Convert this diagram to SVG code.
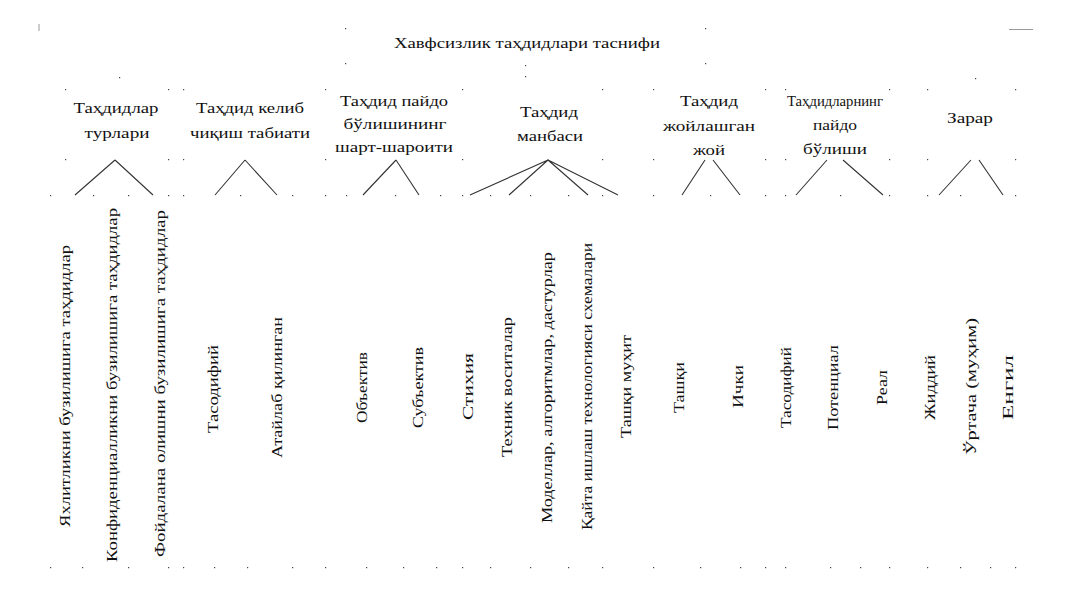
<svg xmlns="http://www.w3.org/2000/svg" width="1067" height="600" viewBox="0 0 1067 600">
<style>
.t{font-family:"Liberation Serif","Times New Roman",serif;font-size:15px;fill:#111}
.h{text-anchor:middle}
.v{font-size:15px}
.c{stroke:#333;stroke-width:1.1;fill:none}
.d{fill:#444}
</style>
<rect width="1067" height="600" fill="#fff"/>
<g id="marks">
<line x1="39" y1="24" x2="39" y2="31" stroke="#999" stroke-width="1"/>
<line x1="1009" y1="29.5" x2="1033" y2="29.5" stroke="#999" stroke-width="1"/>
<g class="d">
<rect x="345" y="28" width="1.2" height="1.2"/><rect x="705" y="28" width="1.2" height="1.2"/>
<rect x="345" y="63" width="1.2" height="1.2"/><rect x="705" y="63" width="1.2" height="1.2"/>
<rect x="525" y="65" width="1.2" height="1.2"/><rect x="525" y="76" width="1.2" height="1.2"/>
<rect x="119" y="77" width="1.2" height="1.2"/><rect x="975" y="78" width="1.2" height="1.2"/>
<rect x="65" y="89" width="1.2" height="1.2"/><rect x="168" y="89" width="1.2" height="1.2"/><rect x="183" y="89" width="1.2" height="1.2"/><rect x="325" y="89" width="1.2" height="1.2"/><rect x="462" y="89" width="1.2" height="1.2"/><rect x="602" y="89" width="1.2" height="1.2"/><rect x="653" y="89" width="1.2" height="1.2"/><rect x="765" y="89" width="1.2" height="1.2"/><rect x="785" y="89" width="1.2" height="1.2"/><rect x="889" y="89" width="1.2" height="1.2"/><rect x="927" y="89" width="1.2" height="1.2"/><rect x="1015" y="89" width="1.2" height="1.2"/>
<rect x="65" y="159" width="1.2" height="1.2"/><rect x="168" y="159" width="1.2" height="1.2"/><rect x="183" y="159" width="1.2" height="1.2"/><rect x="325" y="159" width="1.2" height="1.2"/><rect x="462" y="159" width="1.2" height="1.2"/><rect x="602" y="159" width="1.2" height="1.2"/><rect x="653" y="159" width="1.2" height="1.2"/><rect x="765" y="159" width="1.2" height="1.2"/><rect x="785" y="159" width="1.2" height="1.2"/><rect x="889" y="159" width="1.2" height="1.2"/><rect x="927" y="159" width="1.2" height="1.2"/><rect x="1015" y="159" width="1.2" height="1.2"/>
<rect x="50" y="195" width="1.2" height="1.2"/><rect x="93" y="195" width="1.2" height="1.2"/><rect x="128" y="195" width="1.2" height="1.2"/><rect x="168" y="195" width="1.2" height="1.2"/><rect x="183" y="195" width="1.2" height="1.2"/><rect x="240" y="195" width="1.2" height="1.2"/><rect x="292" y="195" width="1.2" height="1.2"/><rect x="325" y="195" width="1.2" height="1.2"/><rect x="346" y="195" width="1.2" height="1.2"/><rect x="395" y="195" width="1.2" height="1.2"/><rect x="440" y="195" width="1.2" height="1.2"/><rect x="462" y="195" width="1.2" height="1.2"/><rect x="490" y="195" width="1.2" height="1.2"/><rect x="530" y="195" width="1.2" height="1.2"/><rect x="568" y="195" width="1.2" height="1.2"/><rect x="602" y="195" width="1.2" height="1.2"/><rect x="653" y="195" width="1.2" height="1.2"/><rect x="710" y="195" width="1.2" height="1.2"/><rect x="765" y="195" width="1.2" height="1.2"/><rect x="785" y="195" width="1.2" height="1.2"/><rect x="840" y="195" width="1.2" height="1.2"/><rect x="889" y="195" width="1.2" height="1.2"/><rect x="927" y="195" width="1.2" height="1.2"/><rect x="960" y="195" width="1.2" height="1.2"/><rect x="1015" y="195" width="1.2" height="1.2"/>
<rect x="50" y="567" width="1.2" height="1.2"/><rect x="82" y="567" width="1.2" height="1.2"/><rect x="128" y="567" width="1.2" height="1.2"/><rect x="168" y="567" width="1.2" height="1.2"/><rect x="183" y="567" width="1.2" height="1.2"/><rect x="214" y="567" width="1.2" height="1.2"/><rect x="247" y="567" width="1.2" height="1.2"/><rect x="292" y="567" width="1.2" height="1.2"/><rect x="325" y="567" width="1.2" height="1.2"/><rect x="366" y="567" width="1.2" height="1.2"/><rect x="403" y="567" width="1.2" height="1.2"/><rect x="436" y="567" width="1.2" height="1.2"/><rect x="462" y="567" width="1.2" height="1.2"/><rect x="490" y="567" width="1.2" height="1.2"/><rect x="530" y="567" width="1.2" height="1.2"/><rect x="568" y="567" width="1.2" height="1.2"/><rect x="602" y="567" width="1.2" height="1.2"/><rect x="653" y="567" width="1.2" height="1.2"/><rect x="700" y="567" width="1.2" height="1.2"/><rect x="740" y="567" width="1.2" height="1.2"/><rect x="765" y="567" width="1.2" height="1.2"/><rect x="785" y="567" width="1.2" height="1.2"/><rect x="830" y="567" width="1.2" height="1.2"/><rect x="860" y="567" width="1.2" height="1.2"/><rect x="889" y="567" width="1.2" height="1.2"/><rect x="927" y="567" width="1.2" height="1.2"/><rect x="960" y="567" width="1.2" height="1.2"/><rect x="990" y="567" width="1.2" height="1.2"/><rect x="1015" y="567" width="1.2" height="1.2"/>
</g>
</g>
<g id="title"><text class="t h" x="527" y="48" font-size="16" textLength="266" lengthAdjust="spacingAndGlyphs">Хавфсизлик таҳдидлари таснифи</text></g>
<g id="connectors">
<path class="c" d="M115,160 L75,195 M115,160 L153,195"/>
<path class="c" d="M245,160 L215,195 M245,160 L277,195"/>
<path class="c" d="M396,160 L363,195 M396,160 L419,195"/>
<path class="c" d="M548,160 L470,195 M548,160 L509,195 M548,160 L588,195 M548,160 L618,195"/>
<path class="c" d="M705,160 L682,195 M713,160 L740,195"/>
<path class="c" d="M827,160 L796,195 M843,160 L883,195"/>
<path class="c" d="M971,160 L939,195 M979,160 L1003,195"/>
</g>
<g id="h1"><text class="t h" x="116" y="113" textLength="85" lengthAdjust="spacingAndGlyphs">Таҳдидлар</text><text class="t h" x="117" y="138" textLength="65" lengthAdjust="spacingAndGlyphs">турлари</text></g>
<g id="h2"><text class="t h" x="250" y="113" textLength="108" lengthAdjust="spacingAndGlyphs">Таҳдид келиб</text><text class="t h" x="250" y="138" textLength="120" lengthAdjust="spacingAndGlyphs">чиқиш табиати</text></g>
<g id="h3"><text class="t h" x="394" y="106" textLength="108" lengthAdjust="spacingAndGlyphs">Таҳдид пайдо</text><text class="t h" x="395" y="129" textLength="103" lengthAdjust="spacingAndGlyphs">бўлишининг</text><text class="t h" x="394" y="152" textLength="118" lengthAdjust="spacingAndGlyphs">шарт-шароити</text></g>
<g id="h4"><text class="t h" x="549" y="117" textLength="58" lengthAdjust="spacingAndGlyphs">Таҳдид</text><text class="t h" x="550" y="141" textLength="66" lengthAdjust="spacingAndGlyphs">манбаси</text></g>
<g id="h5"><text class="t h" x="709" y="106" textLength="58" lengthAdjust="spacingAndGlyphs">Таҳдид</text><text class="t h" x="709" y="131" textLength="92" lengthAdjust="spacingAndGlyphs">жойлашган</text><text class="t h" x="709" y="155" textLength="32" lengthAdjust="spacingAndGlyphs">жой</text></g>
<g id="h6"><text class="t h" x="835" y="106" textLength="96" lengthAdjust="spacingAndGlyphs">Таҳдидларнинг</text><text class="t h" x="835" y="130" textLength="44" lengthAdjust="spacingAndGlyphs">пайдо</text><text class="t h" x="835" y="154" textLength="64" lengthAdjust="spacingAndGlyphs">бўлиши</text></g>
<g id="h7"><text class="t h" x="970" y="123" textLength="46" lengthAdjust="spacingAndGlyphs">Зарар</text></g>
<g id="leaves">
<text class="t v" x="70" y="527" transform="rotate(-90 70 527)" textLength="282" lengthAdjust="spacingAndGlyphs">Яхлитликни бузилишига таҳдидлар</text>
<text class="t v" x="117" y="562" transform="rotate(-90 117 562)" textLength="354" lengthAdjust="spacingAndGlyphs">Конфиденциалликни бузилишига таҳдидлар</text>
<text class="t v" x="165" y="557" transform="rotate(-90 165 557)" textLength="347" lengthAdjust="spacingAndGlyphs">Фойдалана олишни бузилишига таҳдидлар</text>
<text class="t v" x="218" y="433" transform="rotate(-90 218 433)" textLength="88" lengthAdjust="spacingAndGlyphs">Тасодифий</text>
<text class="t v" x="282" y="458" transform="rotate(-90 282 458)" textLength="141" lengthAdjust="spacingAndGlyphs">Атайлаб қилинган</text>
<text class="t v" x="367" y="423" transform="rotate(-90 367 423)" textLength="71" lengthAdjust="spacingAndGlyphs">Объектив</text>
<text class="t v" x="423" y="428" transform="rotate(-90 423 428)" textLength="81" lengthAdjust="spacingAndGlyphs">Субъектив</text>
<text class="t v" x="473" y="420" transform="rotate(-90 473 420)" textLength="67" lengthAdjust="spacingAndGlyphs">Стихия</text>
<text class="t v" x="512" y="457" transform="rotate(-90 512 457)" textLength="140" lengthAdjust="spacingAndGlyphs">Техник воситалар</text>
<text class="t v" x="552" y="523" transform="rotate(-90 552 523)" textLength="271" lengthAdjust="spacingAndGlyphs">Моделлар, алгоритмлар, дастурлар</text>
<text class="t v" x="592" y="530" transform="rotate(-90 592 530)" textLength="287" lengthAdjust="spacingAndGlyphs">Қайта ишлаш технологияси схемалари</text>
<text class="t v" x="631" y="438" transform="rotate(-90 631 438)" textLength="103" lengthAdjust="spacingAndGlyphs">Ташқи муҳит</text>
<text class="t v" x="684" y="413" transform="rotate(-90 684 413)" textLength="51" lengthAdjust="spacingAndGlyphs">Ташқи</text>
<text class="t v" x="743" y="408" transform="rotate(-90 743 408)" textLength="43" lengthAdjust="spacingAndGlyphs">Ички</text>
<text class="t v" x="791" y="428" transform="rotate(-90 791 428)" textLength="81" lengthAdjust="spacingAndGlyphs">Тасодифий</text>
<text class="t v" x="838" y="430" transform="rotate(-90 838 430)" textLength="85" lengthAdjust="spacingAndGlyphs">Потенциал</text>
<text class="t v" x="887" y="405" transform="rotate(-90 887 405)" textLength="35" lengthAdjust="spacingAndGlyphs">Реал</text>
<text class="t v" x="935" y="420" transform="rotate(-90 935 420)" textLength="65" lengthAdjust="spacingAndGlyphs">Жиддий</text>
<text class="t v" x="976" y="455" transform="rotate(-90 976 455)" textLength="137" lengthAdjust="spacingAndGlyphs">Ўртача (муҳим)</text>
<text class="t v" x="1013" y="420" transform="rotate(-90 1013 420)" textLength="65" lengthAdjust="spacingAndGlyphs">Енгил</text>
</g>
</svg>
